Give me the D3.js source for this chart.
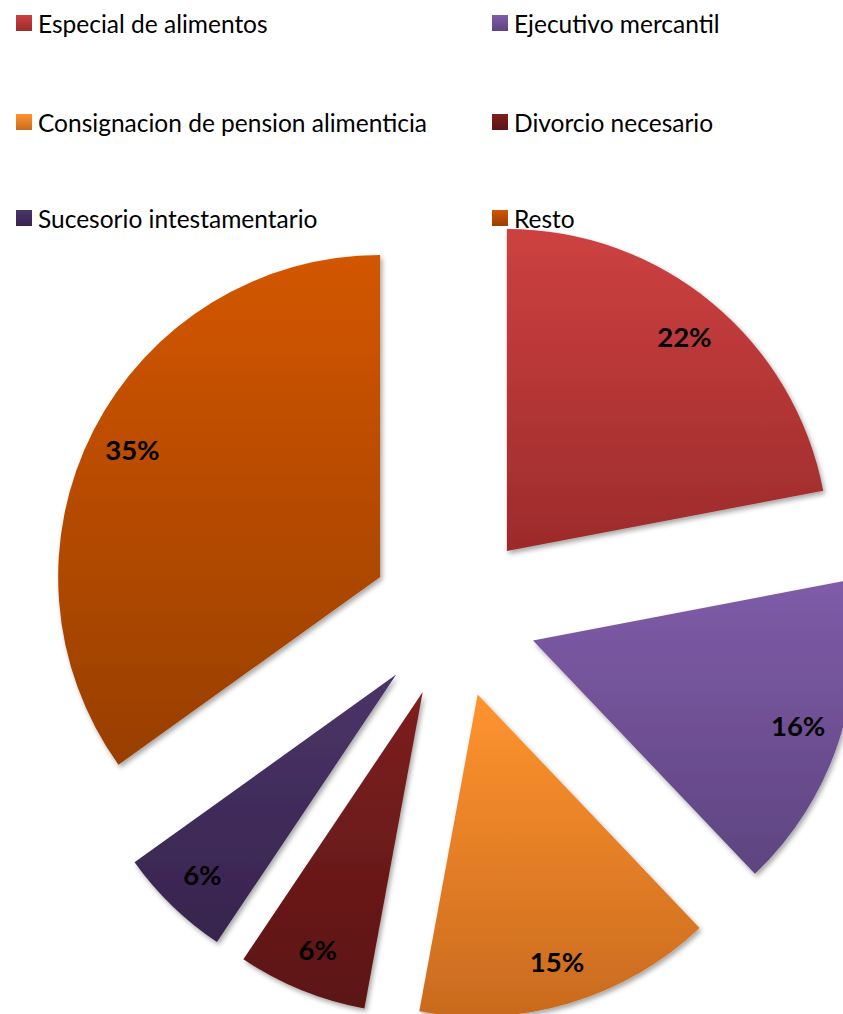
<!DOCTYPE html>
<html><head><meta charset="utf-8">
<script src="https://cdn.jsdelivr.net/npm/d3@7"></script>
<style>body{margin:0;background:#fff}svg{display:block}</style>
</head><body>
<svg id="c" width="843" height="1014"></svg>
<script>
const categories = ["Especial de alimentos","Ejecutivo mercantil","Consignacion de pension alimenticia","Divorcio necesario","Sucesorio intestamentario","Resto"];
const values = [22.0,15.9,15.0,6.5,5.7,34.9];
const labels = ["22%","16%","15%","6%","6%","35%"];
const topColors = ["#CE4141","#7F5CA8","#FF942F","#7D2020","#4B3468","#D35600"];
const bottomColors = ["#9C2B2B","#5E4480","#C96A1E","#5C1414","#37244E","#983F00"];

const svg = d3.select("#c");
const cx = 454, cy = 615, R = 322, explode = 83, labelR = 0.865;

const defs = svg.append("defs");
const f = defs.append("filter").attr("id","sh").attr("x","-10%").attr("y","-10%").attr("width","130%").attr("height","130%");
f.append("feDropShadow").attr("dx",2).attr("dy",3).attr("stdDeviation",2.5).attr("flood-color","#000").attr("flood-opacity",0.35);
categories.forEach((c,i)=>{
  const g = defs.append("linearGradient").attr("id","g"+i).attr("x1",0).attr("y1",0).attr("x2",0).attr("y2",1);
  g.append("stop").attr("offset","0%").attr("stop-color",topColors[i]);
  g.append("stop").attr("offset","100%").attr("stop-color",bottomColors[i]);
});

const pie = d3.pie().sort(null).value(d=>d);
const arcs = pie(values);
const arc = d3.arc().innerRadius(0).outerRadius(R);
const root = svg.append("g").attr("transform",`translate(${cx},${cy})`);
const sl = root.selectAll("g.s").data(arcs).join("g").attr("class","s")
  .attr("transform",d=>{const a=(d.startAngle+d.endAngle)/2;return `translate(${Math.sin(a)*explode},${-Math.cos(a)*explode})`;});
sl.append("path").attr("d",arc).attr("fill",(d,i)=>`url(#g${i})`).attr("filter","url(#sh)");
sl.append("text")
  .attr("x",d=>{const a=(d.startAngle+d.endAngle)/2;return Math.sin(a)*R*labelR;})
  .attr("y",d=>{const a=(d.startAngle+d.endAngle)/2;return -Math.cos(a)*R*labelR;})
  .attr("text-anchor","middle").attr("dominant-baseline","central")
  .attr("font-family","Lato, 'Open Sans', sans-serif").attr("font-weight","bold").attr("font-size",27.5)
  .attr("fill","#000").text((d,i)=>labels[i]);

// legend
const lx = [16,492], ly = [23,122,218];
const lg = svg.append("g");
categories.forEach((c,i)=>{
  const col = i%2, row = Math.floor(i/2);
  const g = lg.append("g").attr("transform",`translate(${lx[col]},${ly[row]})`);
  g.append("rect").attr("x",0).attr("y",-8).attr("width",16).attr("height",16).attr("fill",`url(#g${i})`);
  g.append("text").attr("x",22).attr("y",0).attr("dominant-baseline","central")
    .attr("font-family","Lato, 'Open Sans', sans-serif").attr("font-size",24.5).attr("fill","#000").text(c);
});
</script>
</body></html>
